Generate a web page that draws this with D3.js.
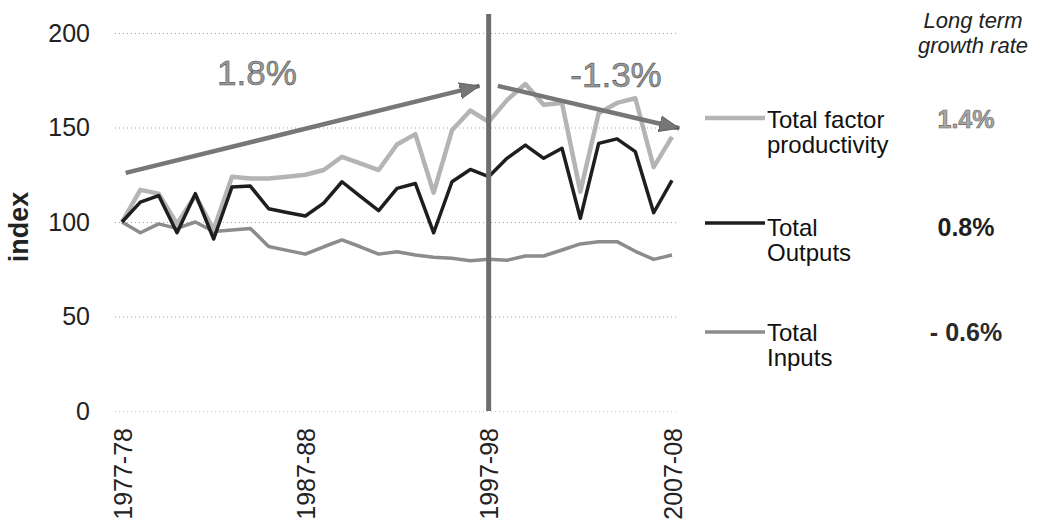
<!DOCTYPE html>
<html>
<head>
<meta charset="utf-8">
<script src="https://cdn.jsdelivr.net/npm/d3@7"></script>
<style>
  body { margin: 0; background: #fff; }
  text { font-family: "Liberation Sans", Arial, sans-serif; }
</style>
</head>
<body>
<div id="chart"></div>
<script>
// data
var years = ["1977-78","1978-79","1979-80","1980-81","1981-82","1982-83","1983-84","1984-85",
  "1985-86","1986-87","1987-88","1988-89","1989-90","1990-91","1991-92","1992-93","1993-94",
  "1994-95","1995-96","1996-97","1997-98","1998-99","1999-00","2000-01","2001-02","2002-03",
  "2003-04","2004-05","2005-06","2006-07","2007-08"];

var tfp = [100, 117, 115, 99, 114, 96, 124, 123, 123, 124, 125, 127.5, 134.5, 131, 127.5, 141,
  146.5, 115.5, 148.5, 159, 153, 164.5, 173, 162, 163, 116, 157.5, 163, 165.5, 129, 145];
var outputs = [100, 110.5, 114, 94.3, 115, 91, 118.5, 119, 107, 105, 103.2, 110, 121.3, 113.5,
  106, 117.8, 120.4, 94.3, 121.3, 127.8, 124, 133.7, 140.7, 133.7, 139, 102, 141.6, 144, 137.2, 104.9, 122];
var inputs = [100, 94.3, 99, 96.6, 100, 95, 95.8, 96.6, 87, 85, 83, 86.9, 90.5, 86.9, 83, 84.3,
  82.5, 81.3, 80.8, 79.5, 80.3, 79.8, 82, 82, 85.2, 88.4, 89.5, 89.6, 84.5, 80.2, 82.5];

var yTicks = [0, 50, 100, 150, 200];
var xTickIdx = [0, 10, 20, 30];

var seriesNames = [["Total factor", "productivity"], ["Total", "Outputs"], ["Total", "Inputs"]];
var growthRates = ["1.4%", "0.8%", "- 0.6%"];

// trend arrows: [index, value] start / end
var arrow1 = [[0.2, 126], [19.5, 172]];
var arrow2 = [[20.5, 172], [30.4, 149.6]];
var arrowLabels = ["1.8%", "-1.3%"];
var breakAt = 20;

var width = 1045, height = 522;
var svg = d3.select("#chart").append("svg")
    .attr("width", width).attr("height", height);

var x = d3.scaleLinear().domain([0, years.length - 1]).range([122, 672]);
var y = d3.scaleLinear().domain([0, 200]).range([411, 33]);

// y axis + dotted grid
var yAxis = svg.append("g")
    .attr("transform", "translate(115,0)")
    .call(d3.axisLeft(y).tickValues(yTicks).tickSize(-(678 - 115)).tickPadding(25));
yAxis.select(".domain").remove();
yAxis.selectAll(".tick line")
    .attr("stroke", "#9a9a9a")
    .attr("stroke-dasharray", "1,3")
    .attr("stroke-opacity", d => d == 0 ? 0.5 : 0.9);
yAxis.selectAll(".tick text")
    .style("font-size", "25px").style("fill", "#222")
    .style("font-family", "Liberation Sans, Arial, sans-serif");

svg.append("text")
    .attr("transform", "translate(28,227) rotate(-90)")
    .attr("text-anchor", "middle")
    .style("font-size", "27px").style("font-weight", "bold").style("fill", "#222")
    .text("index");

// x axis, rotated labels
var xAxis = svg.append("g")
    .attr("transform", "translate(0,411)")
    .call(d3.axisBottom(x).tickValues(xTickIdx).tickFormat(i => years[i]).tickSize(0));
xAxis.select(".domain").remove();
xAxis.selectAll(".tick text")
    .attr("transform", "rotate(-90)")
    .attr("x", -17).attr("y", 0).attr("dy", "0.36em")
    .style("text-anchor", "end")
    .style("font-size", "25px").style("fill", "#222")
    .style("font-family", "Liberation Sans, Arial, sans-serif");

var line = d3.line()
    .x((d, i) => x(i))
    .y(d => y(d));

var series = [
  {vals: tfp, color: "#b4b4b4", w: 4.5},
  {vals: outputs, color: "#1e1e1e", w: 3.5},
  {vals: inputs, color: "#8c8c8c", w: 3.5}
];

svg.selectAll(".series")
    .data([series[2], series[0], series[1]])
    .enter().append("path")
    .attr("class", "series")
    .attr("fill", "none")
    .attr("stroke", d => d.color)
    .attr("stroke-width", d => d.w)
    .attr("stroke-linejoin", "round")
    .attr("d", d => line(d.vals));

// break line at 1997-98
svg.append("line")
    .attr("x1", x(breakAt)).attr("x2", x(breakAt))
    .attr("y1", y(210)).attr("y2", y(0))
    .attr("stroke", "#6e6e6e").attr("stroke-width", 5);

// arrowheads
svg.append("defs").append("marker")
    .attr("id", "head")
    .attr("markerUnits", "userSpaceOnUse")
    .attr("markerWidth", 24).attr("markerHeight", 20)
    .attr("refX", 20).attr("refY", 10)
    .attr("orient", "auto")
  .append("path")
    .attr("d", "M0,2 L20,10 L0,18 Z")
    .attr("fill", "#767676").attr("stroke", "#555").attr("stroke-width", 0.8);

[arrow1, arrow2].forEach(function(a) {
  svg.append("line")
      .attr("x1", x(a[0][0])).attr("y1", y(a[0][1]))
      .attr("x2", x(a[1][0])).attr("y2", y(a[1][1]))
      .attr("stroke", "#777").attr("stroke-width", 4.5)
      .attr("marker-end", "url(#head)");
});

svg.append("text")
    .attr("x", 257).attr("y", 85)
    .attr("text-anchor", "middle")
    .style("font-size", "35px").style("fill", "#999")
    .style("stroke", "#444").style("stroke-width", 0.5)
    .text(arrowLabels[0]);
svg.append("text")
    .attr("x", 616).attr("y", 87)
    .attr("text-anchor", "middle")
    .style("font-size", "35px").style("fill", "#999")
    .style("stroke", "#444").style("stroke-width", 0.5)
    .text(arrowLabels[1]);

// legend
var header = svg.append("text")
    .attr("text-anchor", "middle")
    .style("font-size", "22px").style("font-style", "italic").style("fill", "#222");
header.append("tspan").attr("x", 973).attr("y", 28).text("Long term");
header.append("tspan").attr("x", 973).attr("y", 53).text("growth rate");

var legY = [118, 223, 332];
var legBase = [128, 236, 341];
var rateFill = ["#a8a8a8", "#1e1e1e", "#2a2a2a"];

series.forEach(function(s, k) {
  svg.append("line")
      .attr("x1", 705).attr("x2", 765)
      .attr("y1", legY[k]).attr("y2", legY[k])
      .attr("stroke", s.color).attr("stroke-width", s.w);
  var t = svg.append("text")
      .style("font-size", "24px").style("fill", "#111");
  t.append("tspan").attr("x", 767).attr("y", legBase[k]).text(seriesNames[k][0]);
  t.append("tspan").attr("x", 767).attr("y", legBase[k] + 25).text(seriesNames[k][1]);
  svg.append("text")
      .attr("x", 966).attr("y", legBase[k])
      .attr("text-anchor", "middle")
      .style("font-size", "25px").style("font-weight", "bold")
      .style("fill", rateFill[k])
      .style("stroke", k == 0 ? "#666" : "none").style("stroke-width", 0.6)
      .text(growthRates[k]);
});
</script>
</body>
</html>
